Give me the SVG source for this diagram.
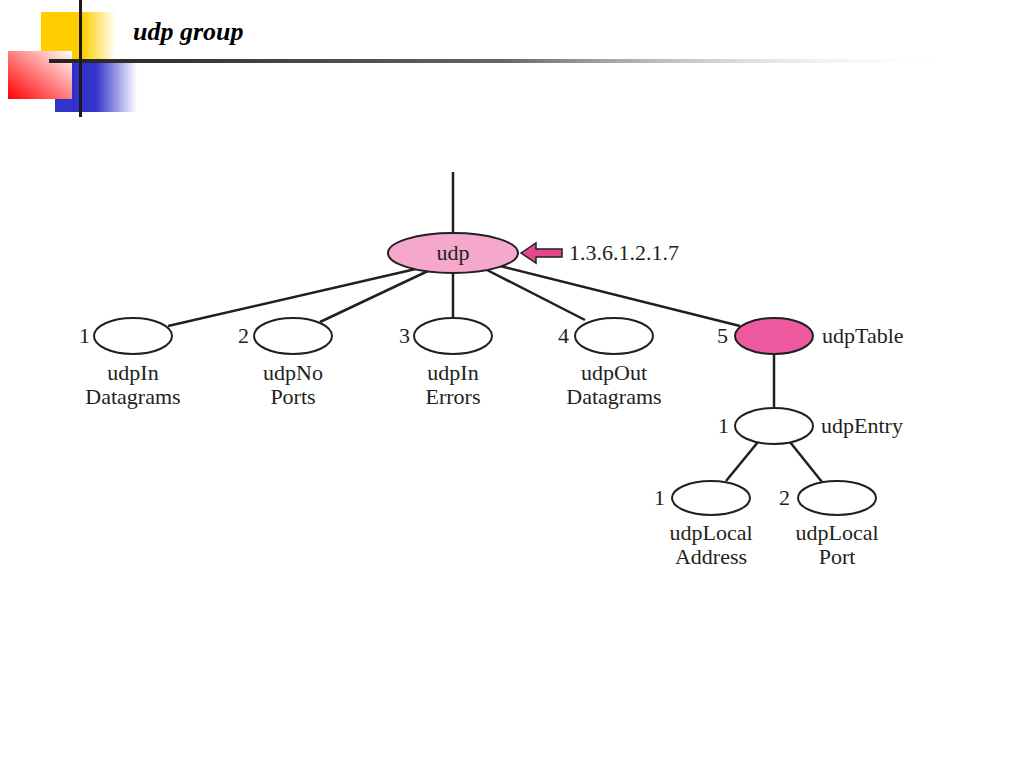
<svg xmlns="http://www.w3.org/2000/svg" width="1024" height="768" viewBox="0 0 1024 768">
<defs>
<linearGradient id="gy" x1="0" y1="0" x2="1" y2="0"><stop offset="0" stop-color="#ffcc00"/><stop offset="0.55" stop-color="#ffcc00"/><stop offset="1" stop-color="#ffcc00" stop-opacity="0"/></linearGradient>
<linearGradient id="gb" x1="0" y1="0" x2="1" y2="0"><stop offset="0" stop-color="#3333cc"/><stop offset="0.5" stop-color="#3333cc"/><stop offset="1" stop-color="#3333cc" stop-opacity="0"/></linearGradient>
<linearGradient id="gr" x1="0" y1="1" x2="1" y2="0"><stop offset="0" stop-color="#ff0000"/><stop offset="1" stop-color="#ffffff"/></linearGradient>
<linearGradient id="gl" x1="0" y1="0" x2="1" y2="0"><stop offset="0" stop-color="#222222"/><stop offset="0.5" stop-color="#666666"/><stop offset="1" stop-color="#ffffff" stop-opacity="0"/></linearGradient>
<style>
.t{font-family:"Liberation Serif","Times New Roman",serif;font-size:22px;fill:#231f20}
.m{text-anchor:middle}
.e{stroke:#231f20;stroke-width:2;fill:#ffffff}
.c line{stroke:#231f20;stroke-width:2.5}
</style>
</defs>
<g id="header">
<rect x="41" y="12" width="75" height="50" fill="url(#gy)"/>
<rect x="55" y="62" width="82" height="50" fill="url(#gb)"/>
<rect x="8" y="51" width="64" height="48" fill="url(#gr)"/>
<rect x="49" y="59" width="911" height="4" fill="url(#gl)"/>
<rect x="79" y="0" width="3" height="117" fill="#1a1a1a"/>
<text x="133" y="40" font-family="Liberation Serif,'Times New Roman',serif" font-size="26" font-weight="bold" font-style="italic" fill="#000">udp group</text>
</g>
<g id="connectors" class="c">
<line x1="453" y1="172" x2="453" y2="233"/>
<line x1="420" y1="268" x2="168" y2="326"/>
<line x1="430" y1="270" x2="320" y2="322"/>
<line x1="453" y1="273" x2="453" y2="318"/>
<line x1="487" y1="270" x2="585" y2="320"/>
<line x1="500" y1="266" x2="740" y2="326"/>
<line x1="774" y1="354" x2="774" y2="408"/>
<line x1="758" y1="442" x2="726" y2="481"/>
<line x1="790" y1="442" x2="822" y2="482"/>
</g>
<g id="udp">
<ellipse cx="453" cy="253" rx="65" ry="20" class="e" style="fill:#f5a8cb"/>
<text x="453" y="260" class="t m">udp</text>
<path d="M521,253 L536,243 L536,249 L562,249 L562,257 L536,257 L536,263 Z" fill="#e2488e" stroke="#231f20" stroke-width="1.5"/>
<text x="569" y="260" class="t">1.3.6.1.2.1.7</text>
</g>
<g id="udpInDatagrams">
<ellipse cx="133" cy="336" rx="39" ry="18" class="e"/>
<text x="90" y="343" class="t" text-anchor="end">1</text>
<text x="133" y="380" class="t m">udpIn</text>
<text x="133" y="404" class="t m">Datagrams</text>
</g>
<g id="udpNoPorts">
<ellipse cx="293" cy="336" rx="39" ry="18" class="e"/>
<text x="249" y="343" class="t" text-anchor="end">2</text>
<text x="293" y="380" class="t m">udpNo</text>
<text x="293" y="404" class="t m">Ports</text>
</g>
<g id="udpInErrors">
<ellipse cx="453" cy="336" rx="39" ry="18" class="e"/>
<text x="410" y="343" class="t" text-anchor="end">3</text>
<text x="453" y="380" class="t m">udpIn</text>
<text x="453" y="404" class="t m">Errors</text>
</g>
<g id="udpOutDatagrams">
<ellipse cx="614" cy="336" rx="39" ry="18" class="e"/>
<text x="569" y="343" class="t" text-anchor="end">4</text>
<text x="614" y="380" class="t m">udpOut</text>
<text x="614" y="404" class="t m">Datagrams</text>
</g>
<g id="udpTable">
<ellipse cx="774" cy="336" rx="39" ry="18" class="e" style="fill:#ee5aa0"/>
<text x="728" y="343" class="t" text-anchor="end">5</text>
<text x="822" y="343" class="t">udpTable</text>
</g>
<g id="udpEntry">
<ellipse cx="774" cy="426" rx="39" ry="18" class="e"/>
<text x="729" y="433" class="t" text-anchor="end">1</text>
<text x="821" y="433" class="t">udpEntry</text>
</g>
<g id="udpLocalAddress">
<ellipse cx="711" cy="498" rx="39" ry="17" class="e"/>
<text x="665" y="505" class="t" text-anchor="end">1</text>
<text x="711" y="540" class="t m">udpLocal</text>
<text x="711" y="564" class="t m">Address</text>
</g>
<g id="udpLocalPort">
<ellipse cx="837" cy="498" rx="39" ry="17" class="e"/>
<text x="790" y="505" class="t" text-anchor="end">2</text>
<text x="837" y="540" class="t m">udpLocal</text>
<text x="837" y="564" class="t m">Port</text>
</g>
</svg>
